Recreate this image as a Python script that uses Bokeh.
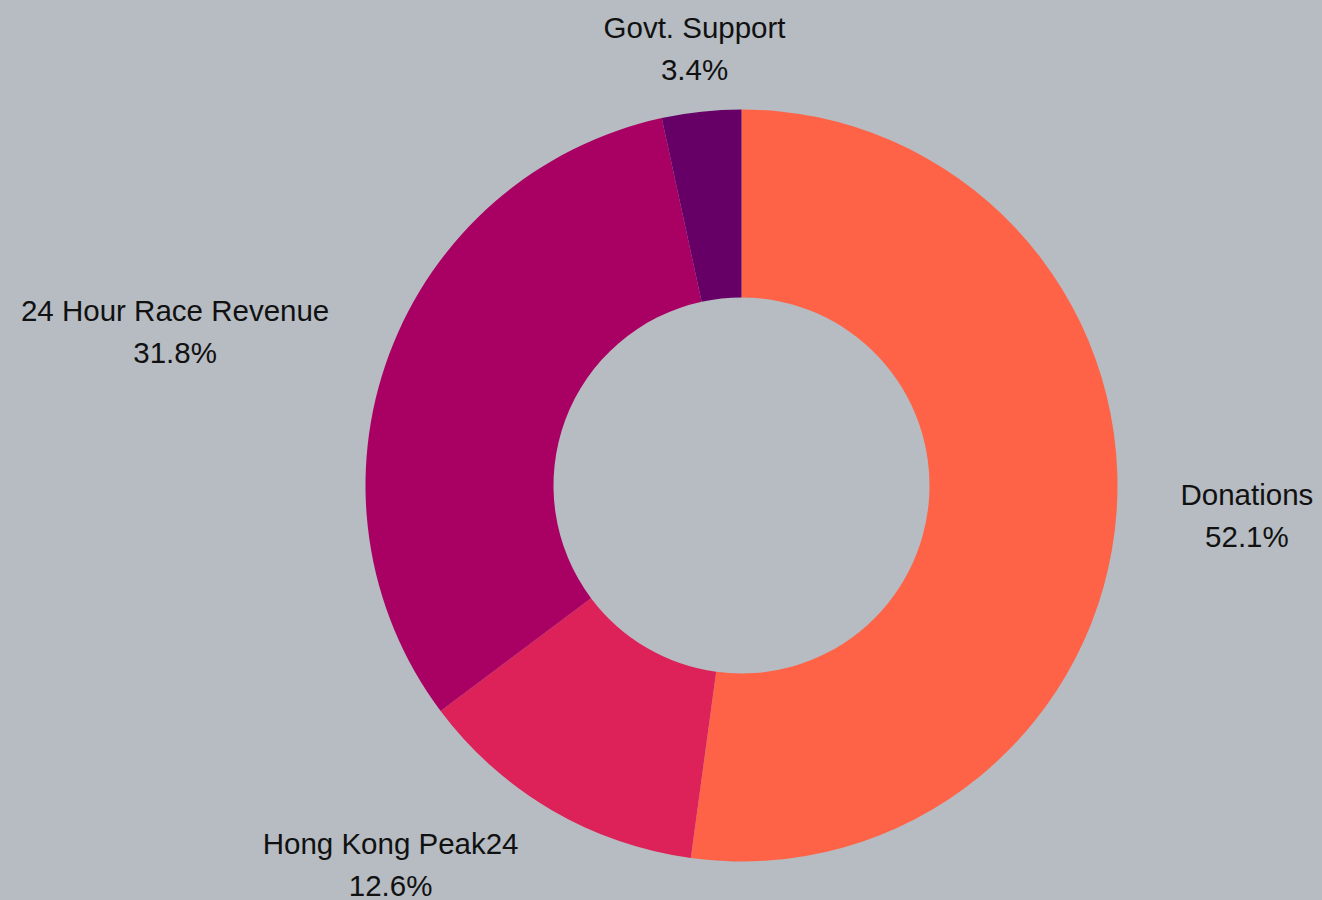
import math
from bokeh.plotting import figure
from bokeh.models import ColumnDataSource, Range1d
from bokeh.core.properties import value
from bokeh.embed import file_html
from bokeh.resources import INLINE

categories = ["Donations", "Hong Kong Peak24", "24 Hour Race Revenue", "Govt. Support"]
values = [52.1, 12.6, 31.8, 3.4]
colors = ["#FF6347", "#DC2259", "#A90063", "#660066"]

BG = "#B6BCC2"
W, H = 1322, 900
FONT_PX = 29.5
# data coordinates = screen pixels (x right, y up from the bottom)
CX, CY = 741, H - 485
R_OUT, R_IN, R_LAB = 376, 188, 440

# Arial / Liberation Sans advance widths (per 1000 em) used to centre the label blocks
ADV = {" ": 278, ".": 278, "%": 889, "D": 722, "G": 778, "H": 722, "K": 667,
       "P": 667, "R": 722, "a": 556, "c": 500, "e": 556, "g": 556, "i": 222,
       "k": 500, "n": 556, "o": 556, "p": 556, "r": 333, "s": 500, "t": 278,
       "u": 556, "v": 500}


def text_width(s):
    return sum(ADV.get(ch, 556) for ch in s) / 1000.0 * FONT_PX


total = sum(values)
starts, ends, lx, ly, names, pcts = [], [], [], [], [], []
cum = 0.0
for cat, v in zip(categories, values):
    f0 = cum / total
    cum += v
    f1 = cum / total
    starts.append(math.pi / 2 - 2 * math.pi * f0)
    ends.append(math.pi / 2 - 2 * math.pi * f1)
    mid = 2 * math.pi * (f0 + f1) / 2  # clockwise from top
    s, c = math.sin(mid), math.cos(mid)
    ax, ay = CX + R_LAB * s, CY + R_LAB * c
    pct = f"{v:.1f}%"
    half = max(text_width(cat), text_width(pct)) / 2
    if abs(s) < 0.3:
        bx = ax
    elif s > 0:
        bx = ax + half
    else:
        bx = ax - half
    lx.append(bx)
    ly.append(ay)
    names.append(cat)
    pcts.append(pct)

src = ColumnDataSource(dict(start=starts, end=ends, color=colors))
lab = ColumnDataSource(dict(x=lx, y=ly, name=names, pct=pcts))

p = figure(width=W, height=H, output_backend="svg", toolbar_location=None,
           x_range=Range1d(0, W), y_range=Range1d(0, H),
           min_border=0, background_fill_color=BG, border_fill_color=BG,
           outline_line_color=None)
p.axis.visible = False
p.grid.visible = False

p.annular_wedge(x=CX, y=CY, inner_radius=R_IN, outer_radius=R_OUT,
                start_angle="start", end_angle="end", direction="clock",
                fill_color="color", line_color=None, source=src)

common = dict(source=lab, text_align="center", text_baseline="middle",
              text_font=value("Liberation Sans"), text_font_size=f"{FONT_PX}px",
              text_color="#111111")
p.text(x="x", y="y", text="name", y_offset=-21, **common)
p.text(x="x", y="y", text="pct", y_offset=21, **common)

html = file_html(p, INLINE)
html = html.replace("<head>", "<head><style>html,body{background:%s;margin:0;overflow:hidden;}</style>" % BG, 1)
open("out.html", "w").write(html)
